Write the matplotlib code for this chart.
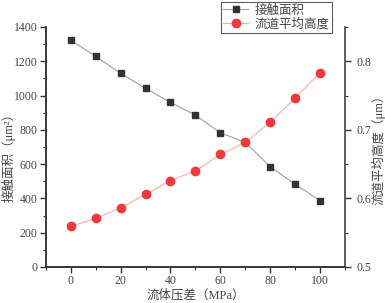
import matplotlib
matplotlib.use("Agg")
import matplotlib.pyplot as plt
from matplotlib.ticker import MultipleLocator

plt.rcParams['font.family'] = ['Liberation Serif', 'Noto Sans CJK SC', 'DejaVu Sans']

pressure = [0, 10, 20, 30, 40, 50, 60, 70, 80, 90, 100]
contact_area = [1323, 1228, 1129, 1042, 960, 886, 783, 727, 585, 482, 387]
mean_height = [0.559, 0.571, 0.586, 0.606, 0.626, 0.640, 0.664, 0.6815, 0.711, 0.7465, 0.783]

label_area = "接触面积"
label_height = "流道平均高度"
xlabel = "流体压差（MPa）"
ylabel_left = "接触面积（μm²）"
ylabel_right = "流道平均高度（μm）"

fig = plt.figure(figsize=(3.85, 3.03), dpi=100)
ax = fig.add_axes([0.119, 0.119, 0.777, 0.792])
ax2 = ax.twinx()

l1, = ax.plot(pressure, contact_area, color="#a0a0a0", lw=0.8, marker="s",
              ms=5, mfc="#333333", mec="#333333", label=label_area, zorder=3)
l2, = ax2.plot(pressure, mean_height, color="#ffaaaa", lw=0.8, marker="o",
               ms=6, mfc="#f03a3a", mec="#f03a3a", label=label_height, zorder=3)

ax.set_xlim(-10, 110)
ax.set_ylim(0, 1400)
ax2.set_ylim(0.5, 0.85)

ax.xaxis.set_major_locator(MultipleLocator(20))
ax.xaxis.set_minor_locator(MultipleLocator(10))
ax.yaxis.set_major_locator(MultipleLocator(200))
ax.yaxis.set_minor_locator(MultipleLocator(100))
ax2.yaxis.set_major_locator(MultipleLocator(0.1))
ax2.yaxis.set_minor_locator(MultipleLocator(0.05))

for a in (ax, ax2):
    a.spines['top'].set_visible(False)
    a.tick_params(which='major', direction='out', length=4, width=1,
                  labelsize=8.5, pad=2, colors="#333333", labelcolor="#444444")
    a.tick_params(which='minor', direction='out', length=2.5, width=0.8,
                  colors="#333333")
    for s in a.spines.values():
        s.set_linewidth(1.1)
        s.set_color("#333333")
ax.spines['right'].set_visible(False)
ax2.tick_params(axis='y', pad=4)

ax.set_xlabel(xlabel, fontsize=9, labelpad=1, color="#444444")
ax.set_ylabel(ylabel_left, fontsize=9, color="#444444")
ax2.set_ylabel(ylabel_right, fontsize=9, color="#444444")
ax.yaxis.set_label_coords(-0.10, 0.47)
ax2.yaxis.set_label_coords(1.087, 0.5)

leg = fig.legend(handles=[l1, l2], loc='upper right',
                 bbox_to_anchor=(332 / 385, 1 - 2 / 303), fontsize=9,
                 frameon=True, fancybox=False, edgecolor="#333333",
                 borderpad=0.2, handlelength=2.0, labelspacing=0.1,
                 handletextpad=0.5, borderaxespad=0)
leg.get_frame().set_linewidth(0.8)
for t in leg.get_texts():
    t.set_color("#444444")

fig.savefig("out.png", dpi=100)
